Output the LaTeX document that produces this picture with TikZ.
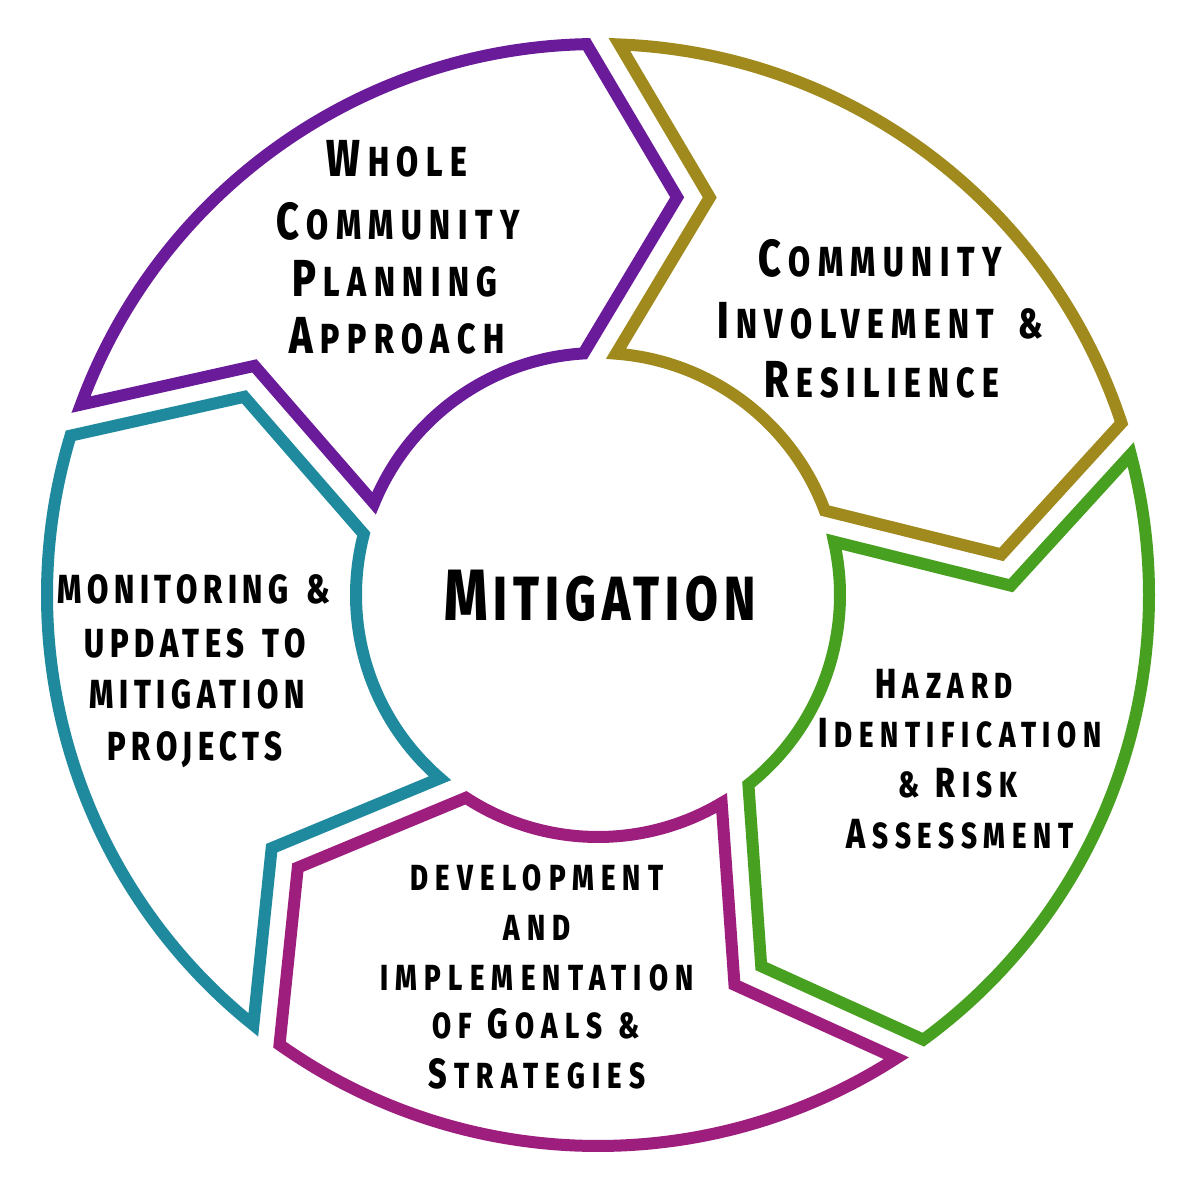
\documentclass[tikz,border=0pt]{standalone}
\usepackage{fontspec}
\newcommand\mkfams[2]{%
  \newfontfamily\famA[FakeStretch=0.76,LetterSpace=18,WordSpace=1.6,#2]{#1}%
  \newfontfamily\famM[FakeStretch=0.76,LetterSpace=9.5,#2]{#1}%
  \newfontfamily\famH[FakeStretch=0.76,LetterSpace=18.5,WordSpace=1.2,#2]{#1}%
  \newfontfamily\famD[FakeStretch=0.76,LetterSpace=20,WordSpace=1.15,#2]{#1}%
  \newfontfamily\famT[FakeStretch=0.76,LetterSpace=14,WordSpace=1.4,#2]{#1}}
\IfFontExistsTF{Fira Sans ExtraBold}
  {\mkfams{Fira Sans ExtraBold}{}}
  {\mkfams{Fira Sans Bold}{FakeBold=1.2}}
\definecolor{cpurple}{HTML}{6A1B9A}
\definecolor{colive}{HTML}{A08A1E}
\definecolor{cgreen}{HTML}{47A01F}
\definecolor{cmagenta}{HTML}{9E1E7E}
\definecolor{cteal}{HTML}{1F8A9E}
\def\capsz{40}
\def\lspc{5pt}
\newcommand\BigL[1]{{\fontsize{\capsz}{\capsz}\selectfont #1}\kern\lspc\relax}
\newcommand\fontA{\famA\fontsize{42}{42}\selectfont\def\capsz{52}\def\lspc{7.5pt}}
\newcommand\fontM{\famM\fontsize{62.4}{62.4}\selectfont\def\capsz{72.6}\def\lspc{5.9pt}}
\newcommand\fontH{\famH\fontsize{36.3}{36.3}\selectfont\def\capsz{42.1}\def\lspc{6.7pt}}
\newcommand\fontD{\famD\fontsize{36.3}{36.3}\selectfont\def\capsz{42.1}\def\lspc{7.2pt}}
\newcommand\fontT{\famT\fontsize{40.6}{40.6}\selectfont\def\capsz{40.6}\def\lspc{5.7pt}}
\newcommand\seg[3]{%
  \draw[segline,#3] ({#1-1.72}:551pt)
    arc[start angle={#1-1.72}, end angle={#2+1.69}, radius=551pt]
    -- ({#2-10.76}:405.5pt) -- ({#2+3.93}:242pt)
    arc[start angle={#2+3.93}, end angle={#1-3.77}, radius=242pt]
    -- ({#1-15.2}:413pt) -- cycle;}
\tikzset{
  segline/.style={line width=12pt, line join=miter},
  lbl/.style={inner sep=0pt, anchor=base, text=black},
  fA/.style={font=\fontA},
  fM/.style={font=\fontM},
  fH/.style={font=\fontH},
  fD/.style={font=\fontD},
  fT/.style={font=\fontT},
}
\begin{document}
\begin{tikzpicture}[x=1pt,y=-1pt]
\fill[white] (0,0) rectangle (1195,1193);
\useasboundingbox (0,0) rectangle (1195,1193);
\begin{scope}[shift={(598,595)}]
  \seg{161.5}{89.5}{cpurple}
  \seg{89.5}{16.5}{colive}
  \seg{16.5}{-55.5}{cgreen}
  \seg{-55.5}{-127}{cmagenta}
  \seg{-127}{-198.5}{cteal}
\end{scope}
% Whole Community Planning Approach
\node[lbl,fA] (w1) at (397,177) {\BigL{W}HOLE};
\node[lbl,fA] (w2) at (398,240) {\BigL{C}OMMUNITY};
\node[lbl,fA] (w3) at (395,297) {\BigL{P}LANNING};
\node[lbl,fA] (w4) at (397,353) {\BigL{A}PPROACH};
% Community Involvement & Resilience
\node[lbl,fA] (c1) at (880,277) {\BigL{C}OMMUNITY};
\node[lbl,fA] (c2) at (880,338) {\BigL{I}NVOLVEMENT \&};
\node[lbl,fA] (c3) at (882,397) {\BigL{R}ESILIENCE};
% Mitigation
\node[lbl,fM] (mit) at (600,620) {\BigL{M}ITIGATION};
% Hazard
\node[lbl,fH] (h1) at (944,698) {\BigL{H}AZARD};
\node[lbl,fH] (h2) at (960,747) {\BigL{I}DENTIFICATION};
\node[lbl,fH] (h3) at (958,797) {\& \BigL{R}ISK};
\node[lbl,fH] (h4) at (960,848) {\BigL{A}SSESSMENT};
% Development
\node[lbl,fD] (d1) at (537,890) {DEVELOPMENT};
\node[lbl,fD] (d2) at (537,940) {AND};
\node[lbl,fD] (d3) at (537,990) {IMPLEMENTATION};
\node[lbl,fD] (d4) at (536,1038) {OF \BigL{G}OALS \&};
\node[lbl,fD] (d5) at (537,1088) {\BigL{S}TRATEGIES};
% Monitoring
\node[lbl,fT] (m1) at (194,603) {MONITORING \&};
\node[lbl,fT] (m2) at (195,657) {UPDATES TO};
\node[lbl,fT] (m3) at (197,708) {MITIGATION};
\node[lbl,fT] (m4) at (195,760) {PROJECTS};
\end{tikzpicture}
\end{document}
